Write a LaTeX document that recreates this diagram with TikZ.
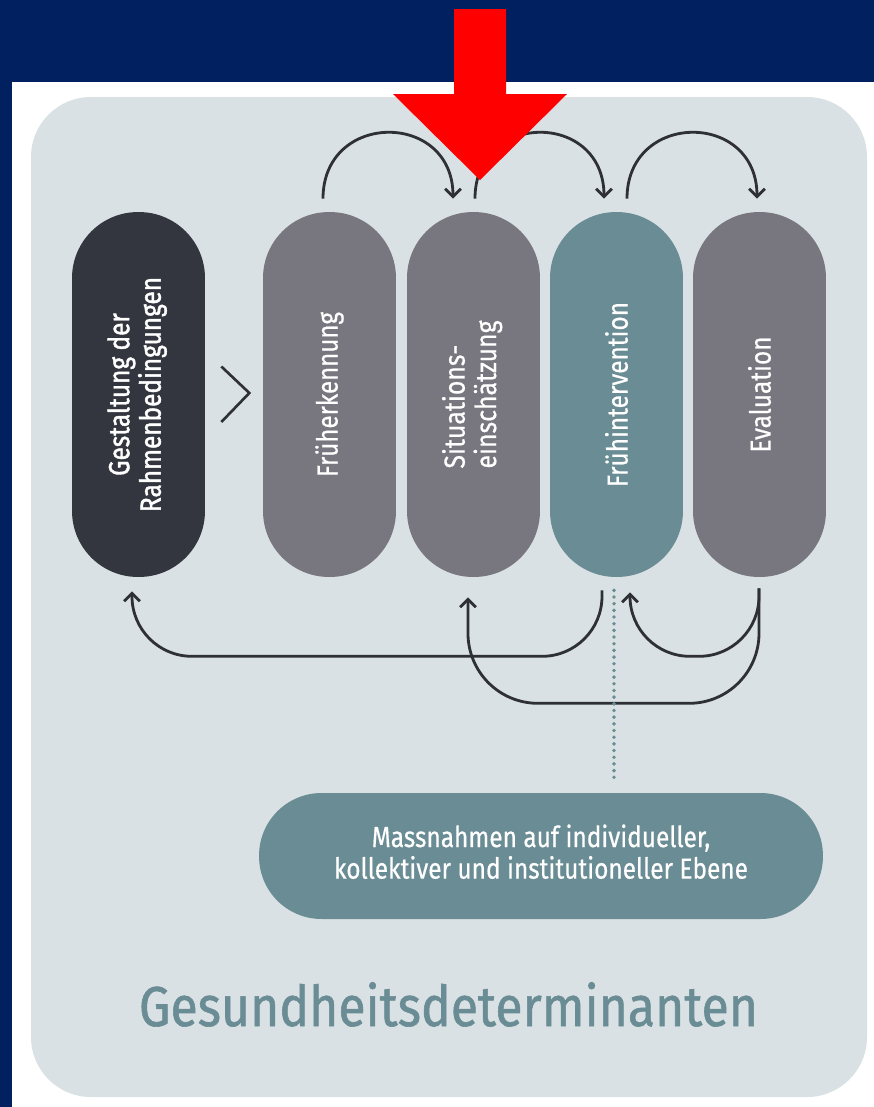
\documentclass[tikz,border=0pt]{standalone}
\usepackage{fontspec}
\setmainfont{Fira Sans}[FakeBold=0.6]
\newfontfamily\medfont{Fira Sans}[FakeBold=1.6]
\newfontfamily\titlefont{Fira Sans}[FakeBold=1.1]
\usepackage{graphicx}
\usetikzlibrary{arrows.meta,calc}
\definecolor{navy}{RGB}{0,32,96}
\definecolor{panel}{RGB}{217,225,228}
\definecolor{pdark}{RGB}{51,53,63}
\definecolor{pgrey}{RGB}{120,119,127}
\definecolor{pteal}{RGB}{106,140,148}
\definecolor{linec}{RGB}{46,48,54}
\newlength\pxu \setlength\pxu{0.02cm}
\newcommand\fitw[2]{\resizebox{#1\pxu}{\height}{#2}}
\begin{document}
\begin{tikzpicture}[x=0.02cm,y=-0.02cm,
  pill/.style={rounded corners=1.32cm, minimum width=2.66cm, minimum height=7.3cm,
    inner sep=0pt, text=white, font=\fontsize{16.5}{16.8}\selectfont},
  widepill/.style={rounded corners=1.25cm, minimum width=11.28cm, minimum height=2.52cm,
    inner sep=0pt, text=white, font=\fontsize{16.5}{17}\selectfont},
  flow/.style={draw=linec, line width=1.6pt, -{Straight Barb[length=4.5pt,width=9pt,line width=1.6pt]}},
  chevronline/.style={draw=linec, line width=1.5pt},
  dotline/.style={draw=pteal, line width=2.2pt, line cap=round, dash pattern=on 0pt off 3.8pt}]
\useasboundingbox (0,0) rectangle (874,1107);
\fill[navy] (0,0) rectangle (874,1107);
\fill[white] (12,82) rectangle (874,1107);
\fill[panel, rounded corners=1.2cm] (31,97) rectangle (867,1097);

% pills
\node[pill, fill=pdark] (p1) at (138.5,394.5)
  {\rotatebox{90}{\fitw{235}{\medfont\begin{tabular}{@{}c@{}}Gestaltung der\\Rahmenbedingungen\end{tabular}}}};
\node[pill, fill=pgrey] (p2) at (329.5,394.5)
  {\rotatebox{90}{\fitw{165}{Früherkennung}}};
\node[pill, fill=pgrey] (p3) at (473.5,394.5)
  {\rotatebox{90}{\fitw{148}{\begin{tabular}{@{}l@{}}Situations-\\einschätzung\end{tabular}}}};
\node[pill, fill=pteal] (p4) at (616.5,394.5)
  {\rotatebox{90}{\fitw{185}{Frühintervention}}};
\node[pill, fill=pgrey] (p5) at (759.5,394.5)
  {\rotatebox{90}{\fitw{116}{Evaluation}}};

\node[widepill, fill=pteal] (b) at (541,856)
  {\fitw{414}{\begin{tabular}{@{}c@{}}Massnahmen auf individueller,\\kollektiver und institutioneller Ebene\end{tabular}}};

\node[anchor=base, text=pteal, font=\titlefont\fontsize{32}{36}\selectfont, inner sep=0pt] (t) at (448.5,1026)
  {\fitw{619}{Gesundheitsdeterminanten}};

% chevron
\draw[chevronline] ($(p1.east)+(16,-28)$) -- ($(p1.east)+(44,-1.5)$) -- ($(p1.east)+(16,27.5)$);

% top arcs
\draw[flow] ($(p2.north)+(-6.5,-13)$) .. controls +(0,-88) and +(0,-88) .. ($(p3.north)+(-20.5,-13)$);
\draw[flow] ($(p3.north)+(1.5,-13)$) .. controls +(0,-88) and +(0,-88) .. ($(p4.north)+(-12.5,-13)$);
\draw[flow] ($(p4.north)+(10.5,-13)$) .. controls +(0,-88) and +(0,-88) .. ($(p5.north)+(-2.5,-13)$);

% bottom connectors
\draw[flow, rounded corners=1.2cm] ($(p4.south)+(-14.5,13)$) |- ($(p1.south)+(-6.5,79)$) -- ($(p1.south)+(-6.5,14)$);
\draw[flow, rounded corners=1.2cm] ($(p5.south)+(-0.5,11)$) |- ($(p4.south)+(13.5,79)$) -- ($(p4.south)+(13.5,15)$);
\draw[flow, rounded corners=1.4cm] ($(p5.south)+(-0.5,11)$) |- ($(p3.south)+(-5.5,126)$) -- ($(p3.south)+(-5.5,20)$);

% dotted link
\draw[dotline] ($(p4.south)+(-2.5,13)$) -- ($(p4.south |- b.north)+(-2.5,-15)$);

% red arrow
\fill[red] (454,9) -- (506,9) -- (506,94) -- (567,94) -- (480,180) -- (393,94) -- (454,94) -- cycle;
\end{tikzpicture}
\end{document}
